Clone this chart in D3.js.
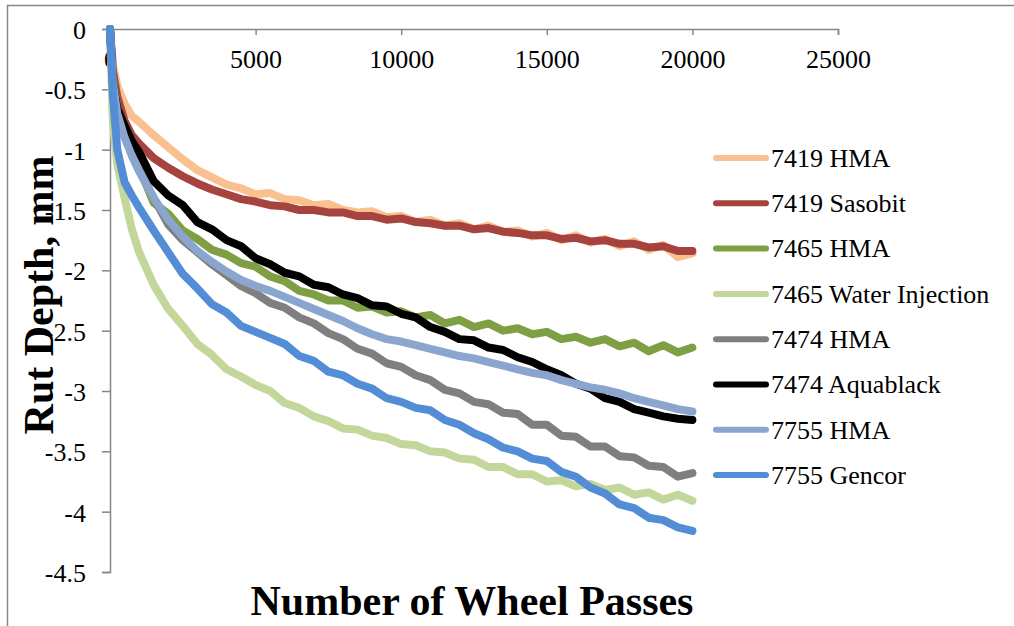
<!DOCTYPE html>
<html>
<head>
<meta charset="utf-8">
<script src="https://cdn.jsdelivr.net/npm/d3@7"></script>
<style>
  body { margin: 0; background: #fff; }
  svg { display: block; }
  svg text { font-family: "Liberation Serif", "Times New Roman", serif; }
</style>
</head>
<body>
<div id="chart"></div>
<script>
// wheel passes (x) shared by every series
var passes = [0, 100, 250, 500, 750, 1000, 1500, 2000, 2500, 3000, 3500, 4000, 4500, 5000,
  5500, 6000, 6500, 7000, 7500, 8000, 8500, 9000, 9500, 10000, 10500, 11000, 11500, 12000,
  12500, 13000, 13500, 14000, 14500, 15000, 15500, 16000, 16500, 17000, 17500, 18000,
  18500, 19000, 19500, 20000];

// rut depth, mm
var hma7419 = [0,-0.30,-0.47,-0.62,-0.72,-0.77,-0.88,-0.98,-1.08,-1.17,-1.23,-1.29,-1.32,-1.37,-1.36,
  -1.41,-1.42,-1.46,-1.45,-1.50,-1.52,-1.51,-1.56,-1.55,-1.60,-1.58,-1.63,-1.61,-1.66,-1.63,
  -1.68,-1.67,-1.72,-1.69,-1.75,-1.71,-1.77,-1.74,-1.80,-1.76,-1.83,-1.79,-1.89,-1.86];
var sasobit7419 = [0,-0.35,-0.56,-0.76,-0.88,-0.95,-1.07,-1.15,-1.22,-1.28,-1.33,-1.37,-1.41,-1.43,-1.46,
  -1.47,-1.50,-1.50,-1.52,-1.52,-1.55,-1.55,-1.58,-1.57,-1.60,-1.61,-1.63,-1.63,-1.66,-1.65,
  -1.68,-1.69,-1.71,-1.71,-1.74,-1.73,-1.76,-1.75,-1.78,-1.78,-1.81,-1.80,-1.84,-1.84];
var hma7465 = [0,-0.42,-0.66,-0.88,-1.03,-1.15,-1.44,-1.53,-1.67,-1.74,-1.83,-1.87,-1.94,-1.97,-2.05,
  -2.09,-2.17,-2.20,-2.25,-2.25,-2.31,-2.30,-2.35,-2.34,-2.39,-2.37,-2.44,-2.41,-2.47,-2.44,
  -2.50,-2.48,-2.53,-2.51,-2.57,-2.55,-2.60,-2.57,-2.63,-2.60,-2.67,-2.62,-2.68,-2.64];
var water7465 = [0,-0.78,-1.12,-1.40,-1.66,-1.85,-2.12,-2.32,-2.46,-2.61,-2.70,-2.82,-2.88,-2.95,-3.00,
  -3.10,-3.14,-3.21,-3.25,-3.31,-3.32,-3.37,-3.39,-3.44,-3.45,-3.50,-3.51,-3.56,-3.57,-3.63,
  -3.63,-3.69,-3.69,-3.75,-3.74,-3.79,-3.77,-3.82,-3.80,-3.86,-3.84,-3.90,-3.86,-3.91];
var hma7474 = [0,-0.42,-0.66,-0.88,-1.03,-1.17,-1.40,-1.62,-1.75,-1.85,-1.95,-2.04,-2.13,-2.19,-2.27,
  -2.31,-2.39,-2.44,-2.52,-2.57,-2.65,-2.69,-2.77,-2.80,-2.87,-2.91,-2.99,-3.02,-3.09,-3.11,
  -3.18,-3.19,-3.28,-3.28,-3.37,-3.38,-3.46,-3.46,-3.54,-3.55,-3.62,-3.63,-3.71,-3.68];
var aqua7474 = [0,-0.45,-0.66,-0.80,-0.93,-1.02,-1.26,-1.38,-1.46,-1.60,-1.66,-1.75,-1.80,-1.90,-1.95,
  -2.02,-2.05,-2.12,-2.14,-2.20,-2.23,-2.29,-2.30,-2.36,-2.39,-2.47,-2.51,-2.57,-2.58,-2.64,
  -2.66,-2.72,-2.76,-2.82,-2.87,-2.94,-2.98,-3.06,-3.09,-3.15,-3.18,-3.21,-3.23,-3.24];
var hma7755 = [0,-0.45,-0.70,-0.90,-1.05,-1.18,-1.40,-1.58,-1.72,-1.84,-1.93,-2.01,-2.08,-2.13,-2.17,
  -2.22,-2.27,-2.32,-2.37,-2.42,-2.48,-2.53,-2.57,-2.59,-2.62,-2.65,-2.68,-2.71,-2.73,-2.76,
  -2.79,-2.82,-2.85,-2.87,-2.91,-2.94,-2.97,-2.99,-3.02,-3.06,-3.09,-3.12,-3.15,-3.17];
var gencor7755 = [0,-0.55,-1.00,-1.27,-1.38,-1.48,-1.67,-1.85,-2.03,-2.15,-2.28,-2.35,-2.46,-2.51,-2.56,
  -2.61,-2.71,-2.75,-2.84,-2.87,-2.94,-2.98,-3.06,-3.09,-3.14,-3.16,-3.24,-3.28,-3.35,-3.40,
  -3.47,-3.50,-3.56,-3.58,-3.67,-3.71,-3.80,-3.85,-3.94,-3.97,-4.05,-4.07,-4.13,-4.16];

var seriesNames = ["7419 HMA", "7419 Sasobit", "7465 HMA", "7465 Water Injection",
  "7474 HMA", "7474 Aquablack", "7755 HMA", "7755 Gencor"];
var seriesValues = [hma7419, sasobit7419, hma7465, water7465, hma7474, aqua7474, hma7755, gencor7755];
var seriesColours = ["#FAC090", "#A7433F", "#7F9F44", "#C4D79B", "#7F7F7F", "#000000", "#8AA6CF", "#538DD5"];

var xTicks = [0, 5000, 10000, 15000, 20000, 25000];
var yTicks = [0, -0.5, -1, -1.5, -2, -2.5, -3, -3.5, -4, -4.5];

var width = 1014, height = 626;
var axisColour = "#868686";
var serif = "'Liberation Serif', 'Times New Roman', serif";

var svg = d3.select("#chart").append("svg")
  .attr("width", width)
  .attr("height", height);

// chart area border
svg.append("rect")
  .attr("x", 7.5).attr("y", 5.5)
  .attr("width", 1030).attr("height", 640)
  .attr("fill", "none")
  .attr("stroke", axisColour)
  .attr("stroke-width", 1.5);

var x = d3.scaleLinear().domain([0, 25000]).range([110, 838]);
var y = d3.scaleLinear().domain([0, -4.5]).range([29, 572]);

// X axis sits on y = 0, ticks and labels hang below it
var xAxis = svg.append("g")
  .attr("transform", "translate(0," + y(0) + ")")
  .call(d3.axisBottom(x).tickValues(xTicks).tickSize(6).tickFormat(function (d) { return String(d); }));
xAxis.selectAll("text")
  .attr("y", 39).attr("dy", 0)
  .style("font-size", "26px")
  .style("font-family", serif)
  .attr("fill", "#000");

// Y axis
var yAxis = svg.append("g")
  .attr("transform", "translate(" + x(0) + ",0)")
  .call(d3.axisLeft(y).tickValues(yTicks).tickSize(8).tickFormat(function (d) { return String(d); }));
yAxis.selectAll("text")
  .attr("x", -24).attr("dy", "0.36em")
  .style("font-size", "26px")
  .style("font-family", serif)
  .attr("fill", "#000");

svg.selectAll(".domain, .tick line")
  .attr("stroke", axisColour)
  .attr("stroke-width", 1.5);

// series lines, drawn in legend order so later ones sit on top
var line = d3.line()
  .x(function (d) { return x(d[0]); })
  .y(function (d) { return y(d[1]); });

for (var i = 0; i < seriesValues.length; i++) {
  var pts = passes.map(function (p, j) { return [p, seriesValues[i][j]]; });
  svg.append("path")
    .datum(pts)
    .attr("d", line)
    .attr("fill", "none")
    .attr("stroke", seriesColours[i])
    .attr("stroke-width", 8)
    .attr("stroke-linejoin", "round")
    .attr("stroke-linecap", "round");
}

// axis titles
svg.append("text")
  .attr("x", 472)
  .attr("y", 615)
  .attr("text-anchor", "middle")
  .style("font-family", serif)
  .style("font-size", "42px")
  .style("font-weight", "bold")
  .text("Number of Wheel Passes");

svg.append("text")
  .attr("transform", "translate(53,295) rotate(-90)")
  .attr("text-anchor", "middle")
  .style("font-family", serif)
  .style("font-size", "42px")
  .style("font-weight", "bold")
  .text("Rut Depth, mm");

// legend
var legend = svg.append("g");
seriesNames.forEach(function (name, i) {
  var ly = 158 + i * 45.3;
  legend.append("line")
    .attr("x1", 716).attr("x2", 766)
    .attr("y1", ly).attr("y2", ly)
    .attr("stroke", seriesColours[i])
    .attr("stroke-width", 6)
    .attr("stroke-linecap", "round");
  legend.append("text")
    .attr("x", 771)
    .attr("y", ly)
    .attr("dy", "0.34em")
    .style("font-family", serif)
    .style("font-size", "26px")
    .text(name);
});
</script>
</body>
</html>
